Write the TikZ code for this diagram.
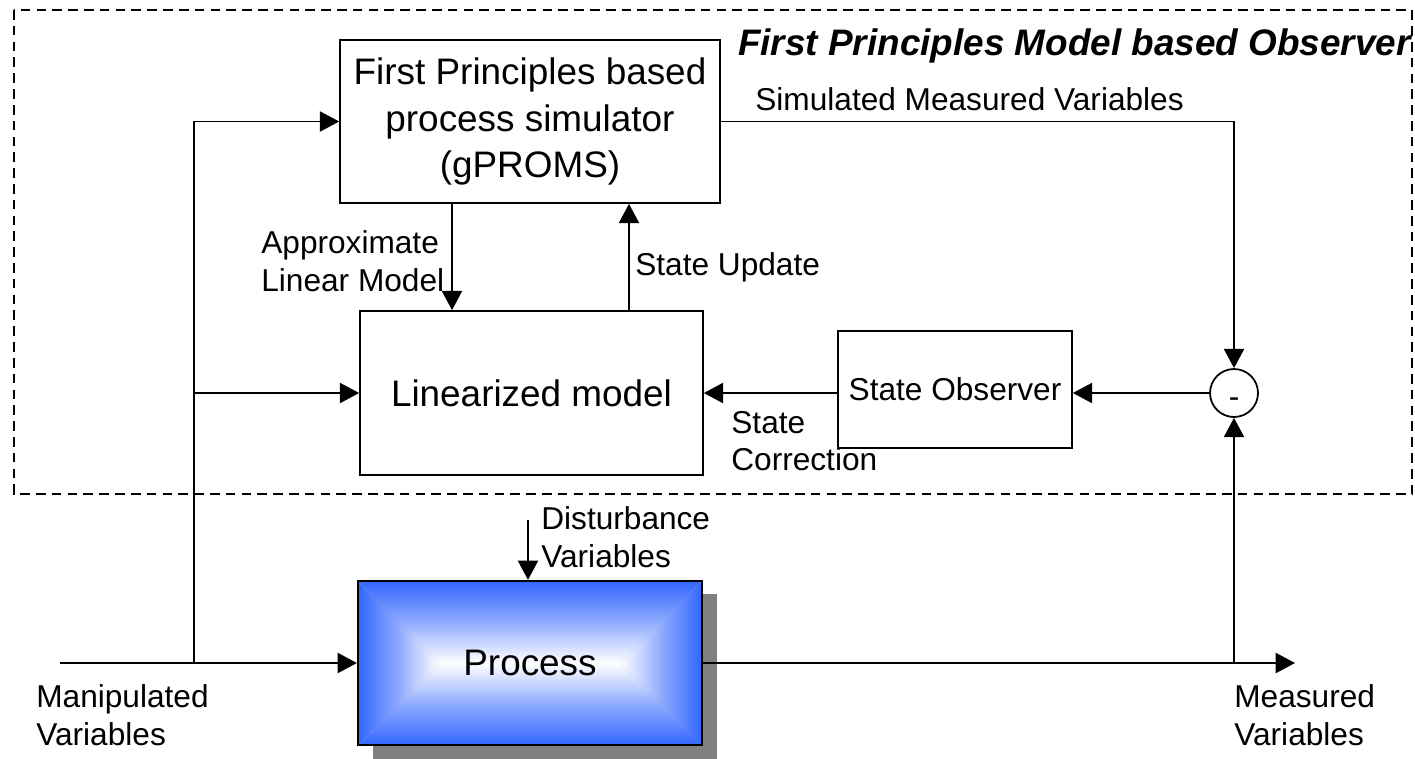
\documentclass[tikz,border=0pt]{standalone}
\usepackage{fontspec}
\setmainfont{Liberation Sans}
\usetikzlibrary{arrows.meta,positioning}
\definecolor{prblue}{RGB}{51,102,255}
\definecolor{shadegray}{RGB}{128,128,128}

\begin{document}
\begin{tikzpicture}[x=0.02cm, y=-0.02cm, >={Triangle[length=11pt,width=11.5pt]},
  every node/.style={font=\fontsize{18}{21.5}\selectfont, inner sep=0pt},
  blk/.style={draw, line width=1pt, align=center, font=\fontsize{21}{26.5}\selectfont},
  lbl/.style={align=left},
  conn/.style={->, line width=1pt}]
  \useasboundingbox (0,0) rectangle (1415,758);
  % observer frame
  \draw[dash pattern=on 5.5pt off 3.5pt, line width=0.9pt] (14,10) rectangle (1412,494);
  \node[anchor=base east, font=\bfseries\itshape\fontsize{21}{26}\selectfont] (ttl) at (1411,55) {First Principles Model based Observer};
  % blocks
  \node[blk, minimum width=7.6cm, minimum height=3.26cm] (fp) at (530,121.5) {First Principles based\\process simulator\\(gPROMS)};
  \node[blk, minimum width=6.86cm, minimum height=3.28cm] (lm) at (531.5,393) {Linearized model};
  \node[blk, font=\fontsize{18}{21.5}\selectfont, minimum width=4.68cm, minimum height=2.34cm] (so) at (955,389.5) {State Observer};
  \node[draw, circle, line width=1pt, minimum size=0.96cm, text height=0.8em, text depth=0pt] (sum) at (1234,393) {\raisebox{-4pt}{-}};
  % process with shadow and shading
  \fill[shadegray] (373,594) rectangle (717,760);
  \shade[top color=prblue, bottom color=white, middle color=prblue!55!white] (358,581) -- (702,581) -- (620,663) -- (440,663) -- cycle;
  \shade[bottom color=prblue, top color=white, middle color=prblue!55!white] (358,745) -- (702,745) -- (620,663) -- (440,663) -- cycle;
  \shade[left color=prblue, right color=white, middle color=prblue!55!white] (358,581) -- (440,663) -- (358,745) -- cycle;
  \shade[right color=prblue, left color=white, middle color=prblue!55!white] (702,581) -- (620,663) -- (702,745) -- cycle;
  \node[blk, line width=1.3pt, minimum width=6.88cm, minimum height=3.28cm] (proc) at (530,663) {Process};
  % signals
  \coordinate (mv) at (60,663);
  \coordinate (jn) at (194,663);
  \coordinate (jm) at (1234,663);
  \coordinate (mo) at (1295,663);
  \coordinate (dv) at (528,520);
  \draw[conn] (mv) -- (proc.west);
  \draw[conn] (jn) |- (fp.west);
  \draw[conn] (jn |- lm.west) -- (lm.west);
  \draw[conn] (proc.east) -- (mo);
  \draw[conn] (jm) -- (sum.south);
  \draw[conn] (fp.east) -| (sum.north);
  \draw[conn] (sum.west) -- (sum.west -| so.east);
  \draw[conn] (so.west |- lm.east) -- (lm.east);
  \draw[conn] ([xshift=-1.56cm]fp.south) -- ([xshift=-1.56cm]fp.south |- lm.north);
  \draw[conn] ([xshift=1.95cm]lm.north) -- ([xshift=1.95cm]lm.north |- fp.south);
  \draw[conn] (dv) -- (dv |- proc.north);
  % labels
  \node[anchor=west] (smv) at (755,99) {Simulated Measured Variables};
  \node[lbl, anchor=west] (aplm) at (261,261) {Approximate\\Linear Model};
  \node[anchor=west] (su) at (635,267) {State Update};
  \node[lbl, anchor=west] (sc) at (731,441) {State\\Correction};
  \node[lbl, anchor=west] (dvl) at (541,537) {Disturbance\\Variables};
  \node[lbl, anchor=west] (mvl) at (36,715) {Manipulated\\Variables};
  \node[lbl, anchor=west] (msl) at (1234,715) {Measured\\Variables};
\end{tikzpicture}
\end{document}
